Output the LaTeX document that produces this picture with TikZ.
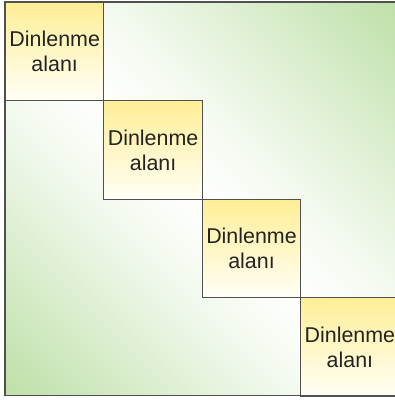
\documentclass[tikz,border=0pt]{standalone}
\usepackage{fontspec}
\setmainfont{Liberation Sans}
\definecolor{bggreen}{RGB}{190,224,168}
\definecolor{boxtop}{RGB}{255,238,150}
\definecolor{boxbot}{RGB}{255,255,246}
\definecolor{edge}{RGB}{80,80,80}
\definecolor{ink}{RGB}{35,35,35}
\pgfdeclarehorizontalshading{diagband}{100bp}{%
  color(0bp)=(bggreen); color(14.64bp)=(bggreen);
  color(23.48bp)=(bggreen!72!white); color(32.32bp)=(bggreen!44!white);
  color(41.16bp)=(bggreen!18!white); color(50bp)=(white);
  color(58.84bp)=(bggreen!18!white); color(67.68bp)=(bggreen!44!white);
  color(76.52bp)=(bggreen!72!white); color(85.36bp)=(bggreen);
  color(100bp)=(bggreen)}
\begin{document}
\begin{tikzpicture}[x=1bp,y=-1bp,
  area/.style={draw=edge, line width=1bp, top color=boxtop, bottom color=boxbot,
    minimum width=98.4bp, minimum height=98.4bp, inner sep=0pt, align=center,
    font=\fontsize{21.5}{25}\selectfont, text=ink, anchor=north west},
  frame/.style={draw=edge, line width=1.6bp}]
\useasboundingbox (0,0) rectangle (395,400);
\clip (0,0) rectangle (395,400);
\fill[white] (0,0) rectangle (395,400);
\shade[shading=diagband, shading angle=45] (5,2) rectangle (398.6,395.6);
\node[area] (r1) at (5,2) {Dinlenme\\alanı};
\node[area] (r2) at (103.4,100.4) {Dinlenme\\alanı};
\node[area] (r3) at (201.8,198.8) {Dinlenme\\alanı};
\node[area] (r4) at (300.2,297.2) {Dinlenme\\alanı};
\draw[frame] (5,2) rectangle (398.6,395.6);
\end{tikzpicture}
\end{document}
